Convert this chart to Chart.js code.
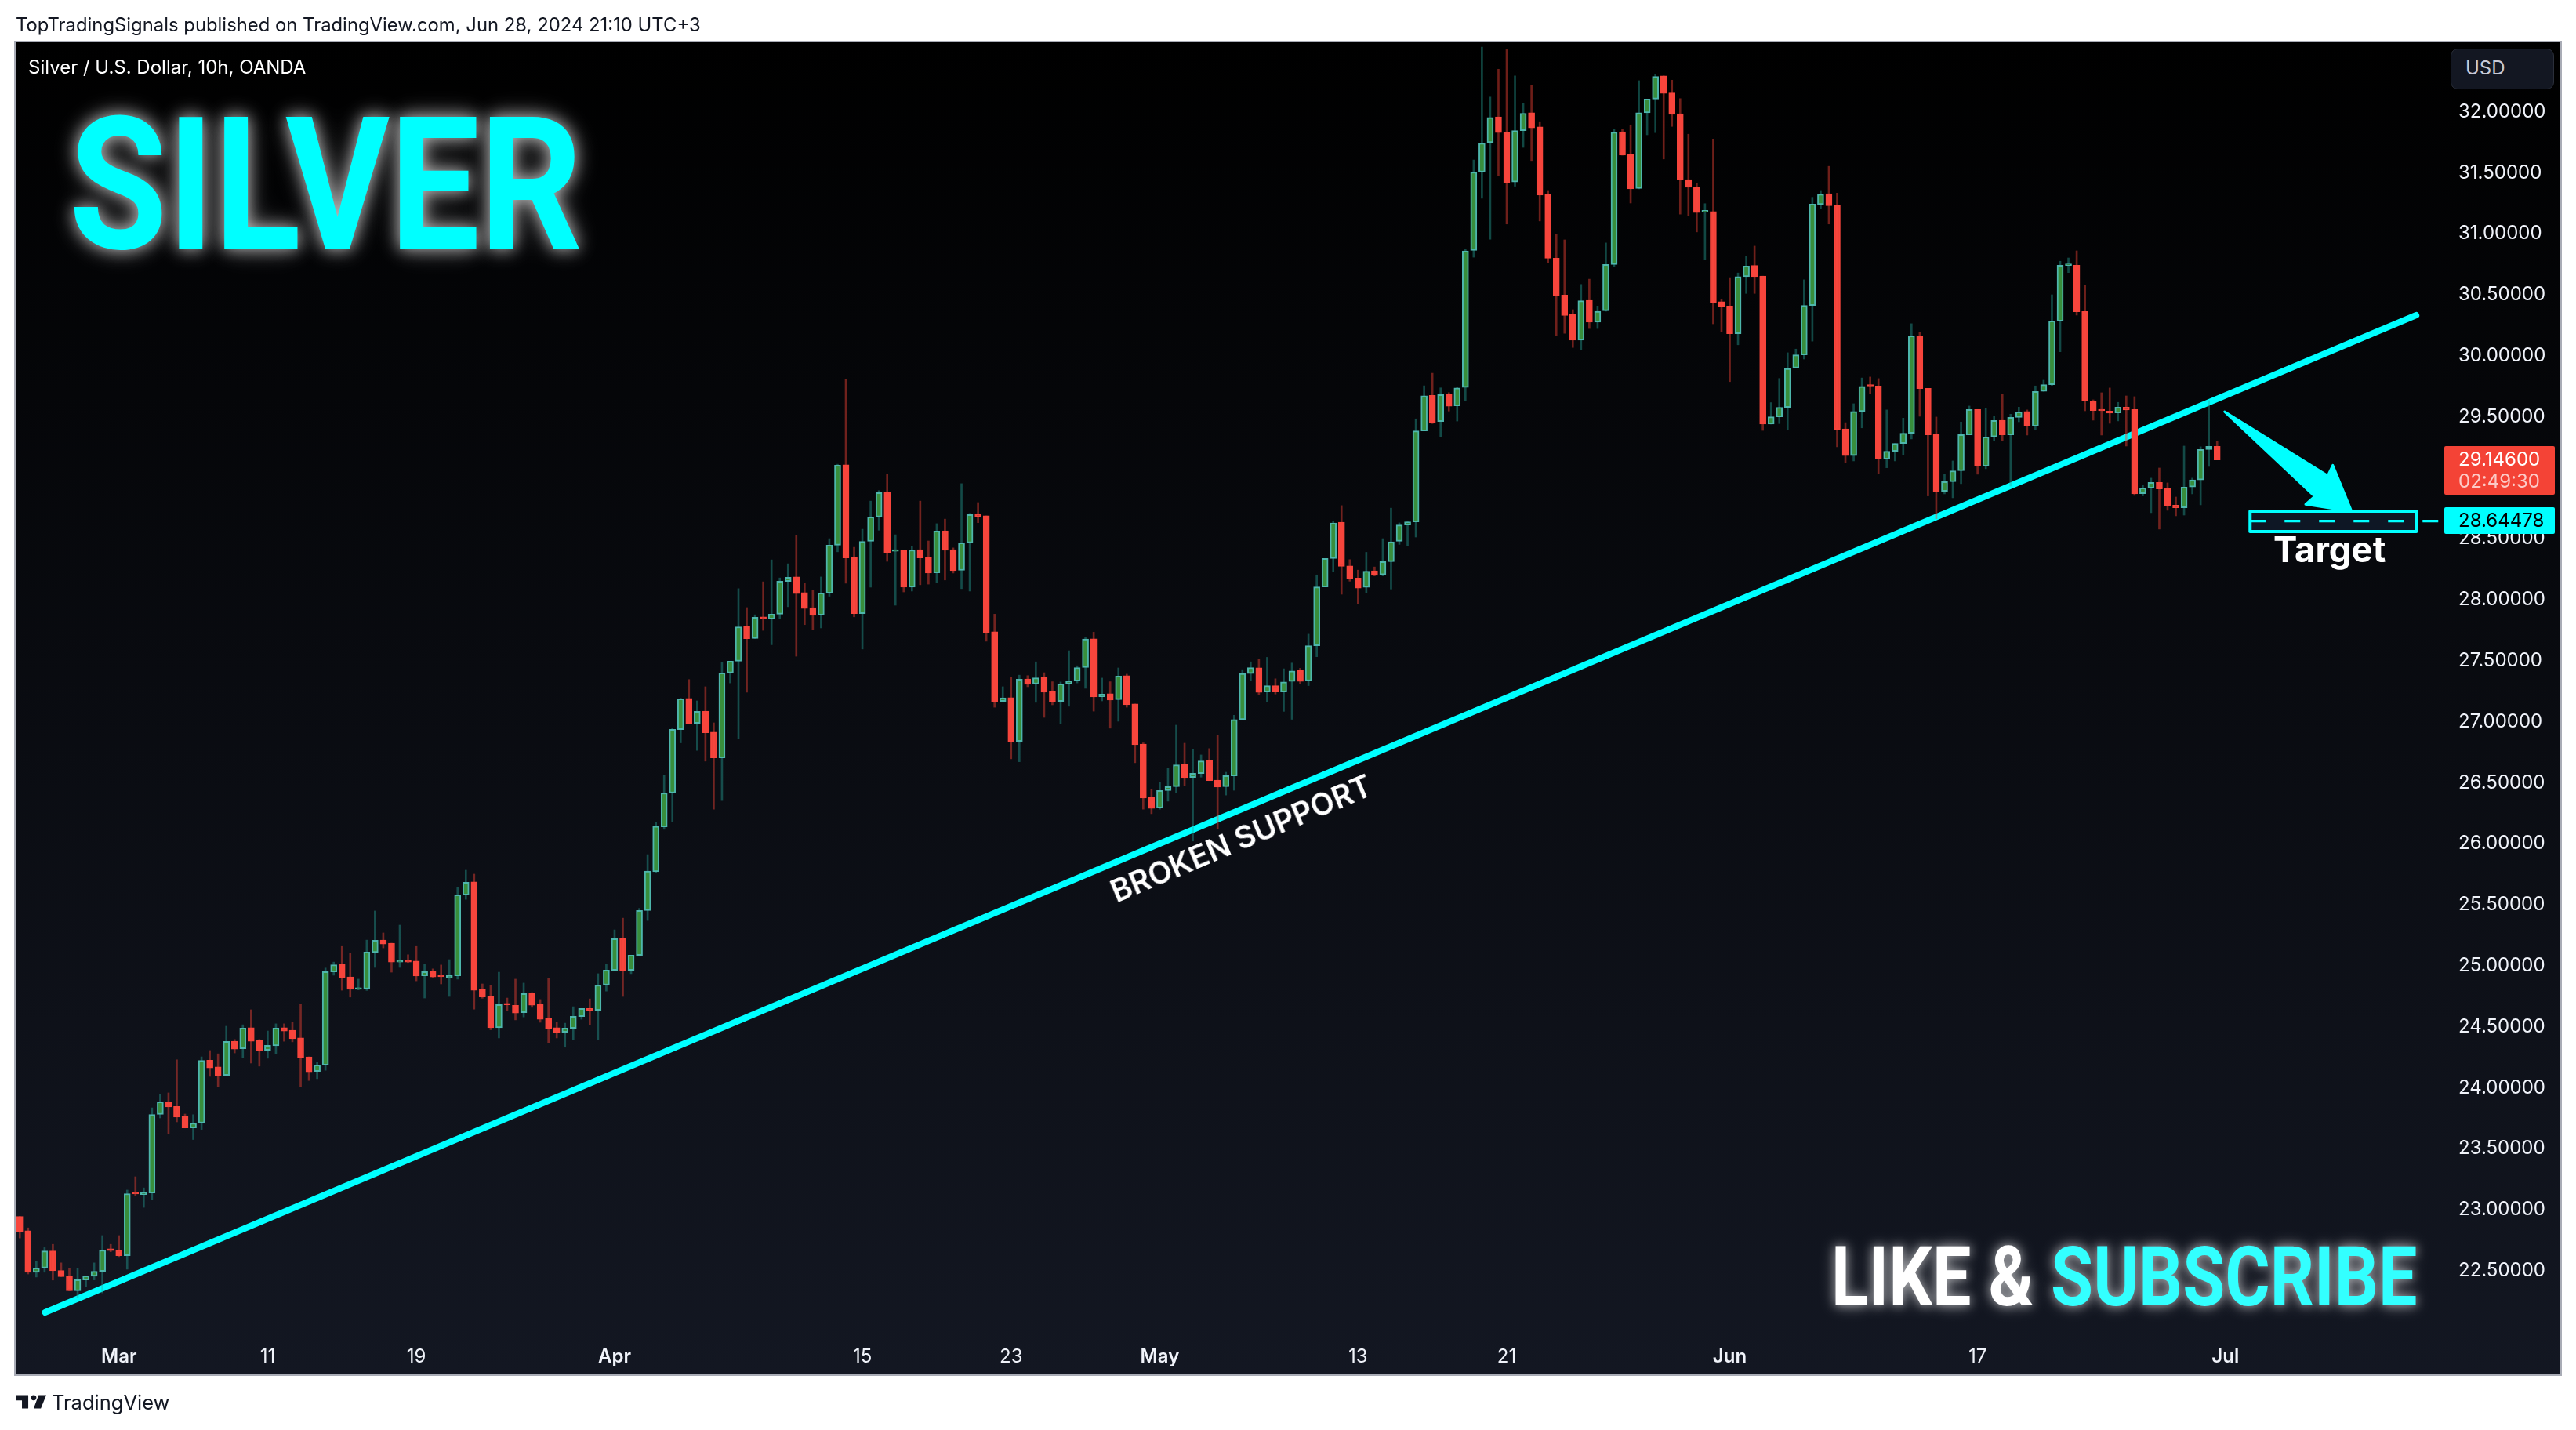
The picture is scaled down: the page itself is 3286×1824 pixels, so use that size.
<!DOCTYPE html>
<html><head><meta charset="utf-8"><title>Silver</title>
<script src="https://cdn.jsdelivr.net/npm/chart.js@4"></script>
<style>
html,body{margin:0;padding:0;background:#fff;width:3286px;height:1824px;overflow:hidden}
body{position:relative;font-family:Inter,sans-serif}
#panel{position:absolute;left:20px;top:54px;width:3246px;height:1699px;background:linear-gradient(#000 0%,#131722 100%);outline:2px solid #a9acb6}
canvas{position:absolute;left:0;top:0;z-index:1}
.t{position:absolute;white-space:nowrap;z-index:2;line-height:1}
#pub{left:20px;top:20px;font-size:23.85px;color:#131722}
#sym{left:36px;top:74px;font-size:24px;color:#fff}
#silver{left:88px;top:98px;font:700 236px Roboto;color:#00ffff;transform-origin:0 0;transform:scaleX(.864);
 text-shadow:0 0 20px rgba(255,255,255,.5),0 0 30px rgba(255,255,255,.4),0 0 44px rgba(255,255,255,.18)}
#like{left:2336px;top:1568px;font:700 105px Roboto;color:#fff;transform-origin:0 0;transform:scaleX(.837);
 text-shadow:0 0 14px rgba(255,255,255,.55),0 0 24px rgba(255,255,255,.35)}
#like span{color:#33ffff}
#target{left:2900px;top:678px;font-weight:700;font-size:45.5px;color:#fff}
#broken{left:1583px;top:1069px;font-weight:600;font-size:39px;color:#fff;transform:translate(-50%,-50%) rotate(-22.9deg)}
.lab{position:absolute;left:3118px;width:141px;z-index:2;border-radius:2px}
#lred{top:569px;height:62px;background:#f44336}
#lcy{top:647px;height:34px;background:#00ffff}
.lt{left:3136px;font-size:24px}
#usd{position:absolute;left:3126px;top:62px;width:132px;height:52px;box-sizing:border-box;background:#131722;border:1.5px solid #2a2e39;border-radius:9px;z-index:2}
#usdt{left:3145px;top:75px;font-size:24px;color:#c8cad6}
#tv{left:66px;top:1776px;font-size:25.5px;color:#131722}
#logo{position:absolute;left:20px;top:1778px;width:39px;height:20px;z-index:2}
</style></head><body>
<div id="panel"></div>
<canvas id="c" width="3286" height="1824"></canvas>
<div class="t" id="pub">TopTradingSignals published on TradingView.com, Jun 28, 2024 21:10 UTC+3</div>
<div class="t" id="sym">Silver / U.S. Dollar, 10h, OANDA</div>
<div class="t" id="silver">SILVER</div>
<div class="t" id="like">LIKE &amp; <span>SUBSCRIBE</span></div>
<div class="t" id="target">Target</div>
<div class="t" id="broken">BROKEN SUPPORT</div>
<div id="usd"></div><div class="t" id="usdt">USD</div>
<div class="lab" id="lred"></div><div class="lab" id="lcy"></div>
<div class="t lt" style="top:574px;color:#fff">29.14600</div>
<div class="t lt" style="top:602px;color:rgba(255,255,255,.72)">02:49:30</div>
<div class="t lt" style="top:652px;color:#000">28.64478</div>
<svg id="logo" viewBox="0 6 34 15"><path fill="#131722" d="M14 6H0v6h7v9h7zM28 21h-8l5.5-15H34z"/><circle fill="#131722" cx="20" cy="9" r="3"/></svg>
<div class="t" id="tv">TradingView</div>
<script>
const opens=[22.945,22.827,22.487,22.522,22.662,22.502,22.451,22.335,22.424,22.455,
22.495,22.679,22.669,22.623,23.142,23.124,23.137,23.781,23.884,23.847,
23.764,23.670,23.710,24.226,24.170,24.101,24.381,24.320,24.492,24.389,
24.307,24.344,24.492,24.472,24.408,24.253,24.133,24.184,24.949,25.011,
24.908,24.807,24.809,25.109,25.210,25.185,25.030,25.043,25.038,24.917,
24.954,24.922,24.898,24.917,25.579,25.687,24.807,24.748,24.492,24.691,
24.676,24.615,24.775,24.684,24.568,24.492,24.455,24.487,24.583,24.649,
24.635,24.841,24.962,25.225,24.962,25.085,25.452,25.770,26.138,26.416,
26.935,27.191,26.986,27.087,26.915,26.704,27.400,27.496,27.781,27.682,
27.860,27.842,27.882,28.150,28.187,28.059,27.936,27.874,28.054,28.447,
29.106,28.347,27.887,28.479,28.679,28.880,28.398,28.406,28.103,28.410,
28.347,28.221,28.565,28.410,28.241,28.467,28.701,28.688,27.737,27.166,
27.198,26.839,27.350,27.309,27.363,27.247,27.166,27.309,27.333,27.444,
27.680,27.205,27.230,27.181,27.378,27.146,26.817,26.381,26.293,26.436,
26.468,26.650,26.544,26.576,26.682,26.522,26.468,26.556,27.018,27.395,
27.442,27.244,27.296,27.244,27.330,27.421,27.335,27.623,28.105,28.338,
28.635,28.277,28.178,28.101,28.238,28.204,28.312,28.480,28.613,28.639,
29.384,29.676,29.461,29.685,29.590,29.741,30.864,31.506,31.747,31.958,
31.829,31.424,31.846,31.992,31.876,31.321,30.800,30.498,30.339,30.128,
30.455,30.275,30.369,30.748,31.837,31.652,31.372,31.992,32.104,32.294,
32.160,31.984,31.445,31.385,31.179,31.183,30.443,30.408,30.180,30.649,
30.740,30.653,29.440,29.500,29.577,29.900,30.008,30.412,31.239,31.329,
31.235,29.401,29.181,29.543,29.759,29.753,29.153,29.217,29.281,29.365,
30.164,29.733,29.354,28.889,28.967,29.057,29.352,29.560,29.095,29.335,
29.472,29.352,29.494,29.543,29.423,29.708,29.763,30.284,30.740,30.742,
30.363,29.631,29.560,29.547,29.532,29.579,29.560,28.870,28.915,28.962,
28.911,28.776,28.754,28.924,28.982,29.232,29.258];
const closes=[22.822,22.487,22.522,22.662,22.500,22.451,22.335,22.426,22.458,22.495,
22.669,22.665,22.623,23.132,23.129,23.139,23.781,23.884,23.843,23.759,
23.670,23.710,24.224,24.162,24.101,24.379,24.317,24.489,24.381,24.305,
24.347,24.489,24.465,24.401,24.246,24.130,24.187,24.952,25.008,24.903,
24.807,24.819,25.112,25.208,25.178,25.030,25.043,25.030,24.915,24.952,
24.908,24.910,24.920,25.581,25.685,24.799,24.743,24.492,24.681,24.679,
24.612,24.772,24.676,24.561,24.484,24.453,24.489,24.585,24.649,24.632,
24.841,24.964,25.222,24.959,25.087,25.453,25.776,26.143,26.416,26.937,
27.188,26.986,27.085,26.910,26.704,27.400,27.496,27.778,27.680,27.857,
27.842,27.882,28.152,28.184,28.051,27.928,27.872,28.056,28.447,29.104,
28.342,27.887,28.479,28.679,28.878,28.386,28.410,28.103,28.408,28.342,
28.219,28.563,28.406,28.238,28.467,28.698,28.681,27.729,27.164,27.196,
26.839,27.348,27.306,27.360,27.242,27.164,27.311,27.336,27.444,27.678,
27.203,27.227,27.178,27.375,27.139,26.812,26.374,26.290,26.436,26.468,
26.647,26.541,26.578,26.679,26.517,26.465,26.559,27.018,27.395,27.444,
27.240,27.296,27.244,27.326,27.416,27.330,27.623,28.105,28.338,28.630,
28.273,28.174,28.096,28.234,28.200,28.312,28.475,28.613,28.639,29.384,
29.672,29.452,29.681,29.586,29.737,30.860,31.506,31.743,31.953,31.829,
31.420,31.846,31.988,31.867,31.316,30.800,30.494,30.331,30.128,30.451,
30.275,30.365,30.748,31.833,31.644,31.368,31.992,32.104,32.289,32.151,
31.979,31.441,31.381,31.174,31.192,30.434,30.404,30.180,30.649,30.735,
30.649,29.440,29.500,29.577,29.896,30.008,30.412,31.243,31.325,31.230,
29.392,29.181,29.543,29.749,29.751,29.153,29.217,29.281,29.365,30.164,
29.731,29.352,28.889,28.969,29.057,29.354,29.560,29.095,29.335,29.470,
29.352,29.496,29.541,29.423,29.708,29.763,30.286,30.742,30.749,30.361,
29.628,29.551,29.549,29.530,29.579,29.556,28.868,28.917,28.962,28.909,
28.774,28.754,28.924,28.982,29.232,29.258,29.146];
const highs=[22.945,22.851,22.576,22.689,22.716,22.564,22.517,22.517,22.458,22.564,
22.788,22.716,22.788,23.161,23.270,23.179,23.835,23.943,23.958,24.229,
23.784,23.779,24.253,24.305,24.278,24.504,24.396,24.516,24.639,24.396,
24.465,24.524,24.524,24.536,24.684,24.253,24.209,24.981,25.030,25.158,
25.102,24.890,25.210,25.449,25.269,25.185,25.333,25.090,25.158,25.011,
24.974,25.006,25.050,25.640,25.783,25.751,24.851,24.839,24.947,24.735,
24.890,24.858,24.780,24.723,24.895,24.536,24.529,24.664,24.649,24.728,
24.935,25.011,25.294,25.390,25.087,25.470,25.911,26.175,26.561,26.950,
27.193,27.346,27.171,27.287,26.991,27.486,27.496,28.091,27.936,27.877,
28.147,28.327,28.179,28.295,28.526,28.135,28.078,28.187,28.501,29.111,
29.807,28.430,28.578,28.809,28.895,29.028,28.533,28.406,28.435,28.809,
28.482,28.624,28.661,28.425,28.952,28.708,28.797,28.688,27.882,27.287,
27.368,27.382,27.378,27.491,27.402,27.328,27.326,27.582,27.459,27.690,
27.734,27.358,27.328,27.441,27.390,27.146,26.827,26.445,26.507,26.618,
26.972,26.824,26.773,26.728,26.780,26.888,26.586,27.053,27.427,27.491,
27.515,27.528,27.352,27.434,27.481,27.438,27.718,28.204,28.338,28.643,
28.772,28.329,28.243,28.389,28.269,28.501,28.751,28.630,28.643,29.483,
29.754,29.857,29.737,29.698,29.745,30.877,31.605,32.530,32.121,32.349,
32.509,32.294,32.070,32.216,31.919,31.355,30.994,30.950,30.378,30.585,
30.628,30.408,30.925,31.854,31.854,31.893,32.255,32.104,32.306,32.294,
32.259,32.108,31.816,31.415,31.247,31.777,30.460,30.641,30.679,30.813,
30.899,30.653,29.616,29.814,30.025,30.055,30.623,31.299,31.355,31.553,
31.334,29.452,29.607,29.818,29.826,29.813,29.556,29.281,29.489,30.263,
30.192,29.733,29.498,29.029,29.138,29.457,29.588,29.560,29.569,29.504,
29.684,29.521,29.579,29.556,29.753,29.800,30.500,30.775,30.802,30.860,
30.577,29.639,29.697,29.736,29.618,29.671,29.665,28.939,28.997,29.080,
28.958,28.842,29.260,28.997,29.254,29.633,29.296];
const lows=[22.768,22.473,22.448,22.487,22.423,22.451,22.335,22.281,22.372,22.424,
22.318,22.655,22.615,22.512,23.112,23.019,23.083,23.752,23.624,23.720,
23.670,23.575,23.658,24.093,24.010,24.101,24.285,24.246,24.202,24.177,
24.241,24.278,24.381,24.376,24.010,24.059,24.074,24.143,24.922,24.799,
24.743,24.802,24.797,24.986,25.146,24.947,24.986,25.026,24.876,24.735,
24.905,24.851,24.748,24.890,25.544,24.644,24.733,24.475,24.408,24.632,
24.556,24.580,24.659,24.536,24.369,24.408,24.332,24.393,24.561,24.516,
24.393,24.792,24.962,24.748,24.935,25.085,25.371,25.763,26.118,26.177,
26.827,26.986,26.765,26.677,26.283,26.354,27.318,26.864,27.242,27.682,
27.749,27.631,27.845,27.943,27.537,27.796,27.756,27.769,28.029,28.393,
28.135,27.860,27.596,28.103,28.570,28.315,27.955,28.064,28.071,28.123,
28.128,28.142,28.162,28.219,28.091,28.071,28.632,27.660,27.119,27.166,
26.696,26.672,27.287,27.159,27.036,27.139,26.984,27.127,27.318,27.274,
27.087,27.171,26.947,27.004,27.119,26.664,26.283,26.246,26.283,26.349,
26.418,26.477,26.022,26.546,26.517,26.123,26.399,26.438,27.018,27.338,
27.223,27.162,27.227,27.085,27.020,27.309,27.296,27.533,28.105,28.230,
28.045,28.152,27.967,28.058,28.195,28.195,28.088,28.454,28.441,28.514,
29.384,29.444,29.336,29.547,29.465,29.633,30.808,31.291,30.955,31.476,
31.080,31.390,31.708,31.600,31.105,30.765,30.167,30.184,30.068,30.051,
30.223,30.223,30.365,30.727,31.644,31.252,31.368,31.811,31.829,31.613,
31.880,31.161,31.148,31.015,30.787,30.262,30.197,29.788,30.090,30.511,
30.511,29.388,29.440,29.444,29.392,29.973,29.973,30.120,31.209,31.080,
29.254,29.125,29.138,29.409,29.686,29.037,29.082,29.138,29.189,29.318,
29.504,28.851,28.664,28.868,28.836,28.952,29.352,29.029,29.074,29.301,
29.305,28.932,29.459,29.350,29.395,29.708,29.757,30.033,30.682,30.333,
29.549,29.472,29.350,29.446,29.466,29.260,28.855,28.851,28.714,28.579,
28.733,28.688,28.694,28.868,28.778,29.093,29.146];

const timeTickIndex=[12,30,48,72,102,120,138,162,180,207,237,267];
const timeTickLabels=["Mar","11","19","Apr","15","23","May","13","21","Jun","17","Jul"];
const monthLabels=["Mar","Apr","May","Jun","Jul"];
const priceTicks=[22.5,23,23.5,24,24.5,25,25.5,26,26.5,27,27.5,28,28.5,29,29.5,30,30.5,31,31.5,32];
const trendX=[3.06,290.1];
const trendY=[22.158,30.333];
const targetPrice=28.64478;
const targetBoxX=[269.8,290.3];
const targetBoxY=[28.739,28.546];
const targetDashEnd=292.8;
const arrowX=[266.9,279.4,280.0,282.2,280.4,276.7,277.8];
const arrowY=[29.542,29.017,29.103,28.739,28.744,28.782,28.847];

const UP_FILL='#388e3c',UP_BORDER='#4db6ac',DOWN='#f7453c';
const UP_WICK='rgba(38,166,154,.42)',DOWN_WICK='rgba(244,67,54,.45)';
const isUp=i=>closes[i]>=opens[i];
const overlay={id:'overlay',afterDatasetsDraw(ch){
  const {ctx,scales:{x,y}}=ch;
  const X=v=>x.getPixelForValue(v),Y=v=>y.getPixelForValue(v);
  ctx.save();
  ctx.fillStyle=ctx.strokeStyle='#00ffff';ctx.lineJoin='round';ctx.lineWidth=3;
  ctx.beginPath();
  arrowX.forEach((v,i)=>{i?ctx.lineTo(X(v),Y(arrowY[i])):ctx.moveTo(X(v),Y(arrowY[i]));});
  ctx.closePath();ctx.fill();ctx.stroke();
  const bx=X(targetBoxX[0]),bw=X(targetBoxX[1])-bx,by=Y(targetBoxY[0]),bh=Y(targetBoxY[1])-by;
  ctx.fillStyle='#0e1725';ctx.fillRect(bx,by,bw,bh);
  ctx.lineWidth=4;ctx.strokeRect(bx+2,by+2,bw-4,bh-4);
  ctx.lineWidth=3.4;ctx.setLineDash([20,24]);
  ctx.beginPath();ctx.moveTo(bx+2,Y(targetPrice));ctx.lineTo(X(targetDashEnd),Y(targetPrice));ctx.stroke();
  ctx.restore();
}};
new Chart(document.getElementById('c'),{
  type:'bar',
  data:{datasets:[
    {type:'bar',order:1,grouped:false,barThickness:8,borderWidth:2,borderSkipped:false,minBarLength:2,
     data:opens.map((o,i)=>({x:i,y:[Math.min(o,closes[i]),Math.max(o,closes[i])]})),
     backgroundColor:c=>isUp(c.dataIndex)?UP_FILL:DOWN,
     borderColor:c=>isUp(c.dataIndex)?UP_BORDER:DOWN},
    {type:'bar',order:2,grouped:false,barThickness:2,borderWidth:0,
     data:lows.map((l,i)=>({x:i,y:[l,highs[i]]})),
     backgroundColor:c=>isUp(c.dataIndex)?UP_WICK:DOWN_WICK},
    {type:'line',order:3,data:trendX.map((v,i)=>({x:v,y:trendY[i]})),borderColor:'#00ffff',borderWidth:8,
     borderCapStyle:'round',pointRadius:0,tension:0,fill:false}
  ]},
  options:{
    responsive:false,animation:false,devicePixelRatio:1,
    layout:{padding:{left:20,top:54,right:20,bottom:71}},
    plugins:{legend:{display:false},tooltip:{enabled:false},title:{display:false}},
    events:[],
    scales:{
      x:{type:'linear',offset:false,min:-0.5,max:293.5,grid:{display:false},border:{display:false},
        afterBuildTicks(s){s.ticks=timeTickIndex.map(v=>({value:v}));},
        afterFit(s){s.height=37;},
        ticks:{autoSkip:false,maxRotation:0,padding:-8,color:'#f0f3fa',
          callback:v=>timeTickLabels[timeTickIndex.indexOf(v)],
          font:c=>({family:'Inter',size:24,weight:c.tick&&monthLabels.includes(timeTickLabels[timeTickIndex.indexOf(c.tick.value)])?'600':'400'})}},
      y:{position:'right',min:21.8882,max:32.5694,grid:{display:false},border:{display:false},
        afterBuildTicks(s){s.ticks=priceTicks.map(v=>({value:v}));},
        afterFit(s){s.width=148;},
        ticks:{autoSkip:false,padding:10,color:'#f0f3fa',callback:v=>v.toFixed(5),font:{family:'Inter',size:24}}}
    }
  },
  plugins:[overlay]
});
</script>
</body></html>
